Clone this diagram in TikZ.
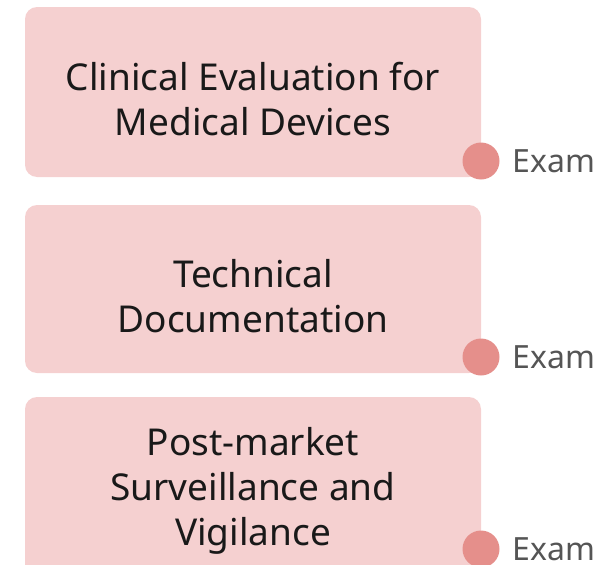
\documentclass[tikz,border=0pt]{standalone}
\usepackage{fontspec}
\setmainfont{Noto Sans}
\usepackage{xcolor}
\usetikzlibrary{positioning}
\definecolor{boxpink}{HTML}{F5D0D0}
\definecolor{dotred}{HTML}{E58F8B}
\definecolor{labelgray}{HTML}{555555}
\tikzset{topic/.style = {fill=boxpink, rounded corners=12pt, minimum width=456pt, inner sep=0pt}}
\tikzset{caption/.style = {align=center, inner sep=0pt, text=black!90,
                           font=\fontsize{37}{45}\selectfont}}
\tikzset{dot/.style = {fill=dotred, circle, inner sep=0pt, minimum size=37pt}}
\tikzset{tag/.style = {text=labelgray, font=\fontsize{32}{36}\selectfont, inner sep=0pt}}
\begin{document}
\begin{tikzpicture}[x=1pt, y=-1pt]
      \useasboundingbox (0,0) rectangle (598,565);
      \node[topic, minimum height=170pt] (clinical) at (253,92) {};
      \node[topic, minimum height=168pt] (techdoc) at (253,289) {};
      \node[topic, minimum height=183pt] (postmarket) at (253,488.5) {};

      \node[caption] (clinicaltext) at (253,99) {Clinical Evaluation for\\Medical Devices};
      \node[caption] (techdoctext) at (253,296) {Technical\\Documentation};
      \node[caption] (postmarkettext) at (253,491) {Post-market\\Surveillance and\\Vigilance};

      \node[dot] (d1) at (481,161) {};
      \node[dot] (d2) at (481,357) {};
      \node[dot] (d3) at (481,549) {};
      \node[tag, right=13pt of d1] (e1) {Exam};
      \node[tag, right=13pt of d2] (e2) {Exam};
      \node[tag, right=13pt of d3] (e3) {Exam};
    \end{tikzpicture}
\end{document}
